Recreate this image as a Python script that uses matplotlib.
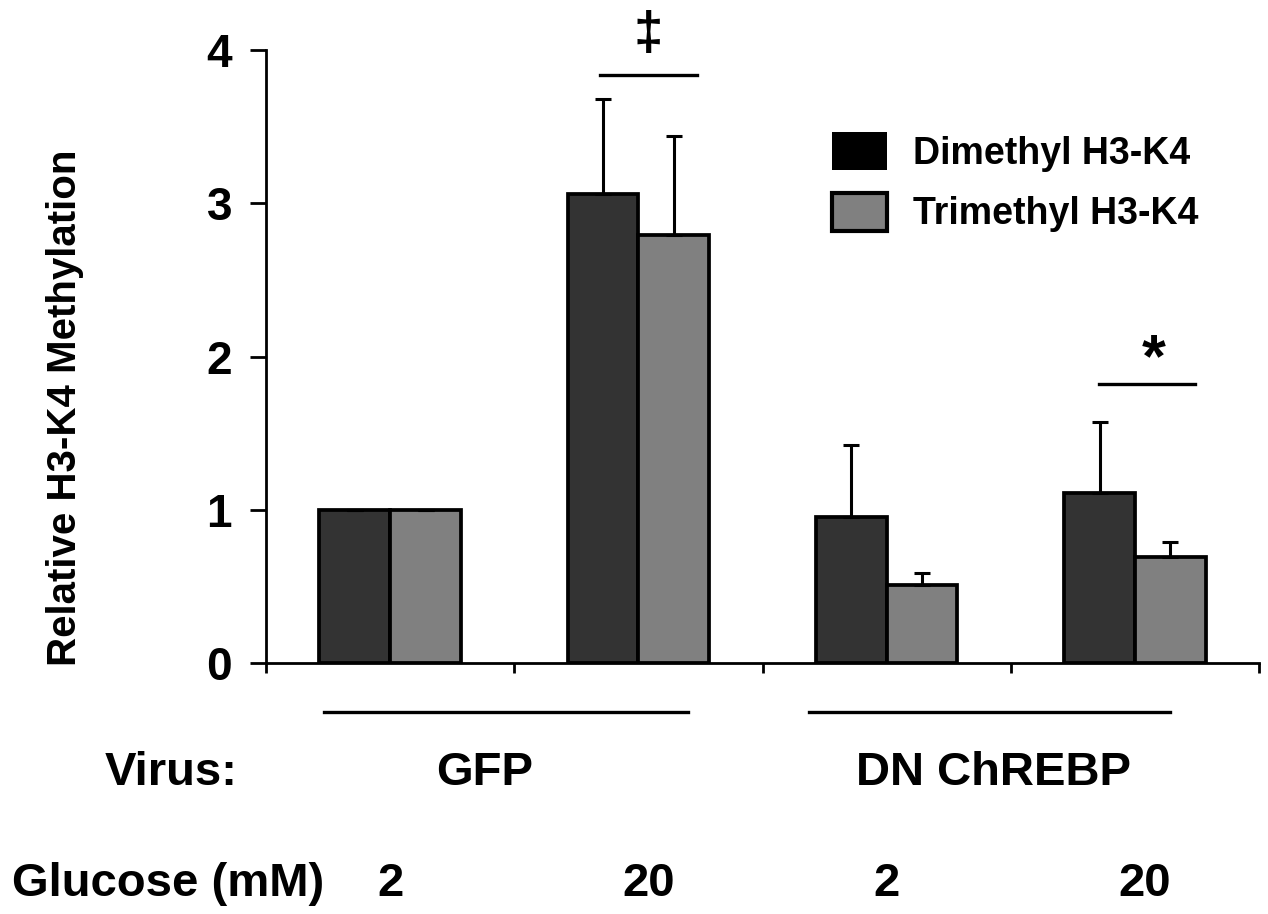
import numpy as np
import matplotlib
matplotlib.use("Agg")
import matplotlib.pyplot as plt
from matplotlib.patches import Patch

plt.rcParams["font.family"] = ["Liberation Sans", "DejaVu Sans"]
plt.rcParams["font.weight"] = "bold"

# Data
virus = ["GFP", "GFP", "DN ChREBP", "DN ChREBP"]
glucose = ["2", "20", "2", "20"]
dimethyl = [1.00, 3.06, 0.95, 1.11]
dimethyl_err = [0.0, 0.62, 0.47, 0.46]
trimethyl = [1.00, 2.79, 0.51, 0.69]
trimethyl_err = [0.0, 0.65, 0.08, 0.10]
series_labels = ["Dimethyl H3-K4", "Trimethyl H3-K4"]

dark = "#333333"
grey = "#808080"

fig = plt.figure(figsize=(12.68, 9.14), dpi=100)
ax = fig.add_axes([0.2098, 0.2746, 0.7832, 0.6707])

x = np.arange(len(glucose))
w = 0.285

err_kw = dict(ecolor="black", elinewidth=2.2, capsize=5.5, capthick=2.2)
ax.bar(x - w / 2, dimethyl, width=w, color=dark, edgecolor="black", linewidth=2.7,
       yerr=[np.zeros(len(x)), dimethyl_err], error_kw=err_kw, zorder=3)
ax.bar(x + w / 2, trimethyl, width=w, color=grey, edgecolor="black", linewidth=2.7,
       yerr=[np.zeros(len(x)), trimethyl_err], error_kw=err_kw, zorder=3)

ax.set_xlim(-0.5, 3.5)
ax.set_ylim(0, 4)
ax.set_yticks([0, 1, 2, 3, 4])
ax.set_xticks([-0.5, 0.5, 1.5, 2.5, 3.5])
ax.set_xticklabels([])
ax.tick_params(axis="y", direction="out", length=11.5, width=2, labelsize=33, pad=13)
ax.tick_params(axis="x", direction="out", length=7, width=2)
for s in ["top", "right"]:
    ax.spines[s].set_visible(False)
for s in ["left", "bottom"]:
    ax.spines[s].set_linewidth(2)

fig.text(65 / 1268, 1 - 408 / 914, "Relative H3-K4 Methylation", rotation=90,
         ha="center", va="center", fontsize=29)

# legend
handles = [Patch(facecolor="black", edgecolor="none"),
           Patch(facecolor=grey, edgecolor="black", linewidth=3)]
ax.legend(handles, series_labels, loc="upper left", bbox_to_anchor=(832 / 1268, 1 - 132 / 914),
          bbox_transform=fig.transFigure, frameon=False, fontsize=27, borderpad=0,
          borderaxespad=0, handlelength=1.47, handleheight=1.2, labelspacing=0.55,
          handletextpad=0.7)

# significance marks
ax.plot([0.845, 1.235], [3.837, 3.837], color="black", lw=2.4, clip_on=False)
ax.text(1.04, 4.1, "\u2021", ha="center", va="center", fontsize=38)
ax.plot([2.857, 3.243], [1.82, 1.82], color="black", lw=2.4, clip_on=False)
ax.text(3.075, 1.97, "*", ha="center", va="center", fontsize=44)

# group annotations below the axis
ax.plot([-0.267, 1.199], [-0.32, -0.32], color="black", lw=2.4, clip_on=False)
ax.plot([1.689, 3.143], [-0.32, -0.32], color="black", lw=2.4, clip_on=False)

ytxt1 = 1 - 773 / 914
ytxt2 = 1 - 884 / 914
fig.text(105 / 1268, ytxt1, "Virus:", ha="left", va="center", fontsize=34)
fig.text(485 / 1268, ytxt1, "GFP", ha="center", va="center", fontsize=34)
fig.text(993 / 1268, ytxt1, "DN ChREBP", ha="center", va="center", fontsize=34)
fig.text(12 / 1268, ytxt2, "Glucose (mM)", ha="left", va="center", fontsize=34)
row = matplotlib.transforms.blended_transform_factory(ax.transData, fig.transFigure)
for xi, g in zip(x, glucose):
    ax.text(xi + (0.04 if len(g) > 1 else 0), ytxt2, g, transform=row,
            ha="center", va="center", fontsize=34)

fig.savefig("out.png", dpi=100)
